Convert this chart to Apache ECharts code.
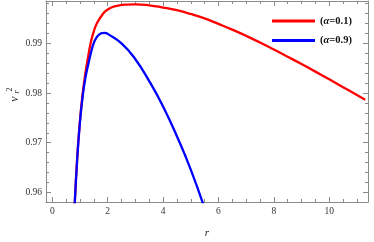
<!DOCTYPE html>
<html><head><meta charset="utf-8">
<script src="https://cdn.jsdelivr.net/npm/echarts@6/dist/echarts.min.js"></script>
<style>html,body{margin:0;padding:0;background:#fff}#c{width:374px;height:242px}</style>
</head><body><div id="c"></div>
<script>
const seriesNames = ['(α=0.1)', '(α=0.9)'];
const rRed = [0.8,0.9,1.0,1.1,1.2,1.3,1.4,1.5,1.6,1.8,2.0,2.3,2.7,3.0,3.5,4.0,4.5,5.0,5.5,6.0,6.5,7.0,7.5,8.0,8.5,9.0,9.5,10.0,10.5,11.0,11.3];
const vRed = [0.9565,0.9670,0.9745,0.9800,0.9842,0.9875,0.9904,0.9924,0.9939,0.9957,0.9968,0.9975,0.9978,0.99785,0.99765,0.9972,0.99665,0.9959,0.9950,0.9939,0.99275,0.9915,0.99015,0.98875,0.9873,0.98582,0.98430,0.98275,0.98118,0.97960,0.97865];
const rBlue = [0.8,0.9,1.0,1.1,1.2,1.3,1.4,1.5,1.6,1.7,1.8,1.9,2.0,2.5,3.0,3.5,4.0,4.5,5.0,5.5];
const vBlue = [0.9565,0.9668,0.9742,0.9795,0.9832,0.9858,0.9882,0.9901,0.9912,0.9918,0.99205,0.9921,0.9919,0.9900,0.9868,0.9824,0.9773,0.9713,0.9646,0.9568];
const xMajor = [0,2,4,6,8,10];
const xMinor = [0.5,1,1.5,2.5,3,3.5,4.5,5,5.5,6.5,7,7.5,8.5,9,9.5,10.5,11];
const yMajor = [0.96,0.97,0.98,0.99];
const yMinor = [0.962,0.964,0.966,0.968,0.972,0.974,0.976,0.978,0.982,0.984,0.986,0.988,0.992,0.994,0.996,0.998];
const xMin = -0.227, xMax = 11.4, yMin = 0.95807, yMax = 0.99851;

const FONT = "'Liberation Serif','DejaVu Serif',serif";
const lineCol = '#8a8a8a';
function xAx(pos, ticks, len, showLine, labels) {
  return {type:'value', position:pos, min:xMin, max:xMax, splitLine:{show:false},
    axisLine:{show:showLine, onZero:false, lineStyle:{color:lineCol, width:1}},
    axisTick:{show:true, inside:true, length:len, customValues:ticks, lineStyle:{color:lineCol}},
    axisLabel:{show:labels, customValues:ticks, margin:4, color:'#333', fontFamily:FONT, fontSize:9.5,
      formatter:v=>String(Math.round(v))}};
}
function yAx(pos, ticks, len, showLine, labels) {
  return {type:'value', position:pos, min:yMin, max:yMax, splitLine:{show:false},
    axisLine:{show:showLine, onZero:false, lineStyle:{color:lineCol, width:1}},
    axisTick:{show:true, inside:true, length:len, customValues:ticks, lineStyle:{color:lineCol}},
    axisLabel:{show:labels, customValues:ticks, margin:4, color:'#333', fontFamily:FONT, fontSize:9.5,
      formatter:v=>v.toFixed(2)}};
}
const chart = echarts.init(document.getElementById('c'), null, {renderer:'canvas'});
chart.setOption({
  animation:false,
  grid:{left:46, top:1, right:6, bottom:40, containLabel:false},
  xAxis:[xAx('bottom', xMajor, 5, true, true), xAx('bottom', xMinor, 3, false, false),
         xAx('top', xMajor, 5, true, false), xAx('top', xMinor, 3, false, false)],
  yAxis:[yAx('left', yMajor, 5, true, true), yAx('left', yMinor, 3, false, false),
         yAx('right', yMajor, 5, true, false), yAx('right', yMinor, 3, false, false)],
  legend:{orient:'vertical', left:267, top:10, itemWidth:43, itemHeight:3, itemGap:7.5, itemTextGap:6,
    icon:'rect', data:seriesNames,
    formatter:n=>'({a|α}' + n.slice(2),
    textStyle:{fontFamily:FONT, fontSize:10.5, fontWeight:'bold', color:'#111', lineHeight:12,
      rich:{a:{fontFamily:FONT, fontSize:10.5, fontWeight:'bold', fontStyle:'italic', color:'#111'}}}},
  series:[
    {name:seriesNames[0], type:'line', xAxisIndex:0, yAxisIndex:0, showSymbol:false, smooth:0.5, clip:true,
     data:rRed.map((r,i)=>[r,vRed[i]]), lineStyle:{color:'#ff0000', width:2.3}, itemStyle:{color:'#ff0000'}},
    {name:seriesNames[1], type:'line', xAxisIndex:0, yAxisIndex:0, showSymbol:false, smooth:0.5, clip:true,
     data:rBlue.map((r,i)=>[r,vBlue[i]]), lineStyle:{color:'#0000ff', width:2.3}, itemStyle:{color:'#0000ff'}}
  ],
  graphic:[
    {type:'text', x:207, y:233, style:{text:'r', font:"italic 11px 'Liberation Serif'", fill:'#222', align:'center', verticalAlign:'middle'}},
    {type:'text', x:14.5, y:99, rotation:Math.PI/2, style:{text:'v', font:"italic 12px 'Liberation Serif'", fill:'#222', align:'center', verticalAlign:'middle'}},
    {type:'text', x:17, y:92, rotation:Math.PI/2, style:{text:'r', font:"italic 8px 'Liberation Serif'", fill:'#222', align:'center', verticalAlign:'middle'}},
    {type:'text', x:10, y:89.5, rotation:Math.PI/2, style:{text:'2', font:"8px 'Liberation Serif'", fill:'#222', align:'center', verticalAlign:'middle'}}
  ]
});
</script></body></html>
